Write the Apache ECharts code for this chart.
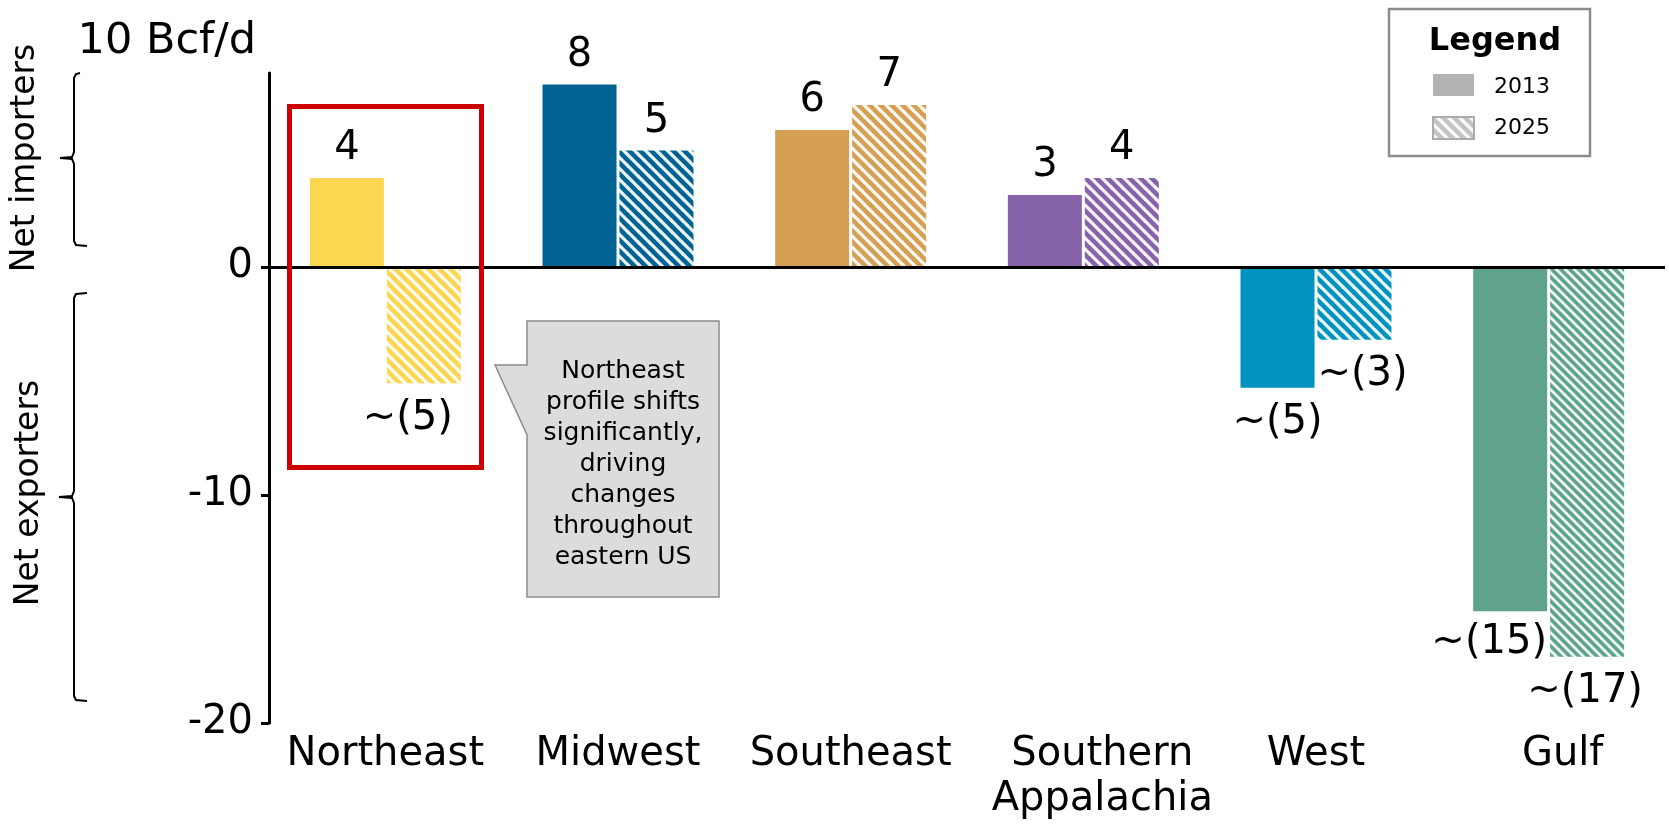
<!DOCTYPE html>
<html><head><meta charset="utf-8">
<script src="https://cdn.jsdelivr.net/npm/echarts@6/dist/echarts.min.js"></script>
<style>html,body{margin:0;padding:0;background:#fff}#c{width:1669px;height:824px}</style>
</head><body><div id="c"></div>
<script>
// ---- data ----
const categories = ['Northeast', 'Midwest', 'Southeast', 'Southern\nAppalachia', 'West', 'Gulf'];
const values2013 = [3.9, 8.0, 6.0, 3.15, -5.3, -15.1];
const values2025 = [-5.1, 5.1, 7.1, 3.9, -3.2, -17.1];
const labels2013 = ['4', '8', '6', '3', '~(5)', '~(15)'];
const labels2025 = ['~(5)', '5', '7', '4', '~(3)', '~(17)'];
const yTickValues = [-20, -10, 0];
const yTopLabel = '10 Bcf/d';
const seriesNames = ['2013', '2025'];
const calloutText = 'Northeast\nprofile shifts\nsignificantly,\ndriving\nchanges\nthroughout\neastern US';
const sideLabels = ['Net importers', 'Net exporters'];

// ---- styles ----
const FONT = 'DejaVu Sans';
const regionColors = ['#FCD650', '#006392', '#D5A053', '#8763AA', '#0093BF', '#5FA38A'];
const hatchPeriods = [11, 11, 11, 11, 11, 9];
const categoryLabelPadding = [[0,0,0,0],[0,0,0,0],[0,0,0,0],[0,0,0,38],[0,0,0,0],[0,0,0,28]];
const labelOffsets2013 = [[0,0],[0,0],[0,0],[0,0],[0,0],[-21,-4]];
const labelOffsets2025 = [[-16,0],[0,0],[0,0],[0,0],[8,0],[-2,0]];

function makeHatch(color, period, lw) {
  const cv = document.createElement('canvas');
  cv.width = period; cv.height = period;
  const ctx = cv.getContext('2d');
  ctx.fillStyle = color;
  ctx.fillRect(0, 0, period, period);
  ctx.strokeStyle = 'rgba(255,255,255,0.92)';
  ctx.lineWidth = lw;
  for (const c of [-period, 0, period]) {
    ctx.beginPath();
    ctx.moveTo(-1, c - 1);
    ctx.lineTo(period + 1, period + c + 1);
    ctx.stroke();
  }
  return cv;
}

function buildItems(values, labels, offsets, hatched) {
  return values.map((v, i) => ({
    value: v,
    itemStyle: {
      color: hatched
        ? { image: makeHatch(regionColors[i], hatchPeriods[i], hatchPeriods[i] * 0.3), repeat: 'repeat' }
        : regionColors[i]
    },
    label: {
      show: true,
      formatter: labels[i],
      position: v >= 0 ? 'top' : 'bottom',
      distance: v >= 0 ? 9 : 15,
      offset: offsets[i]
    }
  }));
}

const chart = echarts.init(document.getElementById('c'));

const labelStyle = { fontFamily: FONT, fontSize: 40, color: '#000' };

const option = {
  animation: false,
  backgroundColor: '#fff',
  textStyle: { fontFamily: FONT },
  grid: { left: 269, right: 4, top: 73, bottom: 101, containLabel: false },
  xAxis: {
    type: 'category',
    data: categories.map((c, i) => ({ value: c, textStyle: { padding: categoryLabelPadding[i] } })),
    axisLine: { show: false, onZero: false },
    axisTick: { show: false },
    axisLabel: { interval: 0, margin: 9, fontFamily: FONT, fontSize: 40, lineHeight: 45, color: '#000' },
    splitLine: { show: false }
  },
  yAxis: {
    type: 'value',
    min: -20,
    max: 8.5,
    interval: 10,
    axisLine: { show: true, lineStyle: { color: '#000', width: 3 } },
    axisTick: { show: true, length: 8, inside: false, customValues: yTickValues, lineStyle: { color: '#000', width: 3 } },
    axisLabel: { customValues: yTickValues, margin: 16, fontFamily: FONT, fontSize: 40, color: '#000' },
    splitLine: { show: false }
  },
  series: [
    {
      name: seriesNames[0],
      type: 'bar',
      barWidth: 74,
      barGap: '4%',
      data: buildItems(values2013, labels2013, labelOffsets2013, false),
      label: labelStyle,
      markLine: {
        silent: true,
        symbol: 'none',
        label: { show: false },
        lineStyle: { color: '#000', width: 3, type: 'solid' },
        data: [{ yAxis: 0 }]
      }
    },
    {
      name: seriesNames[1],
      type: 'bar',
      barWidth: 74,
      barGap: '4%',
      data: buildItems(values2025, labels2025, labelOffsets2025, true),
      label: labelStyle
    }
  ],
  graphic: [
    // top unit label
    { type: 'text', z: 100, x: 256, y: 42, style: { text: yTopLabel, font: '43px "DejaVu Sans"', fill: '#000', align: 'right', verticalAlign: 'middle' } },
    // braces
    { type: 'polyline', z: 100, shape: { points: [[80,73],[76,74],[74,78],[74,152],[72,157],[60,158],[72,159],[74,164],[74,241],[76,245],[87,246]] }, style: { stroke: '#000', lineWidth: 2, fill: null } },
    { type: 'polyline', z: 100, shape: { points: [[87,293],[76,294],[74,298],[74,491],[72,496],[59,497],[72,498],[74,503],[74,696],[76,700],[87,701]] }, style: { stroke: '#000', lineWidth: 2, fill: null } },
    { type: 'text', z: 100, x: 25, y: 158, rotation: Math.PI / 2, style: { text: sideLabels[0], font: '33px "DejaVu Sans"', fill: '#000', align: 'center', verticalAlign: 'middle' } },
    { type: 'text', z: 100, x: 29, y: 493, rotation: Math.PI / 2, style: { text: sideLabels[1], font: '33px "DejaVu Sans"', fill: '#000', align: 'center', verticalAlign: 'middle' } },
    // red highlight box
    { type: 'rect', z: 100, shape: { x: 289.5, y: 106.5, width: 192, height: 361 }, style: { fill: null, stroke: '#CC0000', lineWidth: 5 } },
    // callout
    { type: 'polygon', z: 100, shape: { points: [[527,321],[719,321],[719,597],[527,597],[527,435],[495,365],[527,365]] }, style: { fill: '#DCDCDC', stroke: '#8C8C8C', lineWidth: 1.5 } },
    { type: 'text', z: 101, x: 623, y: 464, style: { text: calloutText, font: '25px "DejaVu Sans"', lineHeight: 31, fill: '#000', align: 'center', verticalAlign: 'middle' } },
    // legend
    { type: 'rect', z: 100, shape: { x: 1389, y: 9, width: 201, height: 147 }, style: { fill: '#fff', stroke: '#8C8C8C', lineWidth: 2.5 } },
    { type: 'text', z: 101, x: 1495, y: 42, style: { text: 'Legend', font: 'bold 32px "DejaVu Sans"', fill: '#000', align: 'center', verticalAlign: 'middle' } },
    { type: 'rect', z: 101, shape: { x: 1433, y: 74, width: 41, height: 22 }, style: { fill: '#B2B2B2' } },
    { type: 'rect', z: 101, shape: { x: 1433, y: 117, width: 41, height: 22 }, style: { fill: { image: makeHatch('#C4C4C4', 11, 3.3), repeat: 'repeat' }, stroke: '#ABABAB', lineWidth: 2 } },
    { type: 'text', z: 101, x: 1494, y: 87, style: { text: seriesNames[0], font: '22px "DejaVu Sans"', fill: '#000', align: 'left', verticalAlign: 'middle' } },
    { type: 'text', z: 101, x: 1494, y: 128, style: { text: seriesNames[1], font: '22px "DejaVu Sans"', fill: '#000', align: 'left', verticalAlign: 'middle' } }
  ]
};

chart.setOption(option);
</script>
</body></html>
